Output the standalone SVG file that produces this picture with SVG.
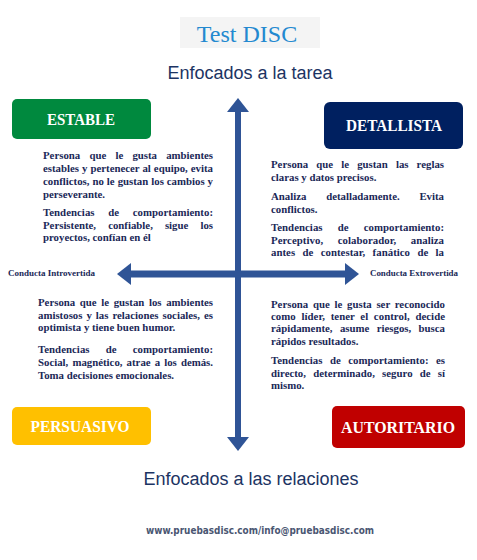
<svg xmlns="http://www.w3.org/2000/svg" width="477" height="560" viewBox="0 0 477 560">
<defs>
<style>
.body{font-family:"Liberation Serif","Times New Roman",serif;font-weight:bold;font-size:10.8px;fill:#1a2857}
.head{font-family:"Liberation Serif","Times New Roman",serif;font-weight:bold;font-size:17px;fill:#ffffff;text-anchor:middle}
.axis{font-family:"Liberation Sans",Arial,sans-serif;font-size:18px;fill:#1c3463;text-anchor:middle}
.side{font-family:"Liberation Serif","Times New Roman",serif;font-weight:bold;font-size:8px;fill:#1a2857}
.arrow{stroke:#2f5496;fill:none}
</style>
<marker id="ah" viewBox="0 0 14 22" markerUnits="userSpaceOnUse" markerWidth="14" markerHeight="22" refX="0" refY="11" orient="auto-start-reverse">
<path d="M0,0 L14,11 L0,22 z" fill="#2f5496"/>
</marker>
</defs>
<rect width="477" height="560" fill="#ffffff"/>

<g id="title">
<rect x="180" y="17" width="140" height="31" fill="#f4f4f4"/>
<text x="247" y="42" font-family="Liberation Serif, Times New Roman, serif" font-size="24" fill="#2389d0" text-anchor="middle">Test DISC</text>
</g>

<g id="axis-top"><text class="axis" x="250" y="79">Enfocados a la tarea</text></g>
<g id="axis-bottom"><text class="axis" x="251" y="485">Enfocados a las relaciones</text></g>

<g id="connectors">
<line class="arrow" x1="238" y1="112" x2="238" y2="437" stroke-width="6" marker-start="url(#ah)" marker-end="url(#ah)"/>
<line class="arrow" x1="131" y1="274" x2="345" y2="274" stroke-width="7" marker-start="url(#ah)" marker-end="url(#ah)"/>
</g>

<g id="introvertida"><text class="side" x="8" y="276" textLength="87" lengthAdjust="spacingAndGlyphs">Conducta Introvertida</text></g>
<g id="extrovertida"><text class="side" x="370" y="276" textLength="88" lengthAdjust="spacingAndGlyphs">Conducta Extrovertida</text></g>

<g id="estable">
<rect x="12" y="99" width="139" height="40" rx="5" fill="#00893e"/>
<text class="head" x="81" y="124.5" textLength="68" lengthAdjust="spacingAndGlyphs">ESTABLE</text>
<text class="body">
<tspan x="43" y="159" word-spacing="6.5" textLength="170">Persona que le gusta ambientes</tspan>
<tspan x="43" y="172" word-spacing="0.3" textLength="170">estables y pertenecer al equipo, evita</tspan>
<tspan x="43" y="185" word-spacing="0.3" textLength="170">conflictos, no le gustan los cambios y</tspan>
<tspan x="43" y="198">perseverante.</tspan>
<tspan x="43" y="216" word-spacing="10.9" textLength="170">Tendencias de comportamiento:</tspan>
<tspan x="43" y="229" word-spacing="9.4" textLength="170">Persistente, confiable, sigue los</tspan>
<tspan x="43" y="241">proyectos, confían en él</tspan>
</text>
</g>

<g id="detallista">
<rect x="324" y="102" width="139" height="47" rx="6" fill="#002060"/>
<text class="head" x="394" y="130.5" textLength="96" lengthAdjust="spacingAndGlyphs">DETALLISTA</text>
<text class="body">
<tspan x="271" y="168" word-spacing="5.4" textLength="173">Persona que le gustan las reglas</tspan>
<tspan x="271" y="181">claras y datos precisos.</tspan>
<tspan x="271" y="200" word-spacing="17" textLength="173">Analiza detalladamente. Evita</tspan>
<tspan x="271" y="213">conflictos.</tspan>
<tspan x="271" y="231" word-spacing="12.4" textLength="173">Tendencias de comportamiento:</tspan>
<tspan x="271" y="243.5" word-spacing="11.8" textLength="173">Perceptivo, colaborador, analiza</tspan>
<tspan x="271" y="256" word-spacing="4.6" textLength="173">antes de contestar, fanático de la</tspan>
</text>
</g>

<g id="persuasivo">
<rect x="12" y="407" width="139" height="38" rx="5" fill="#ffc000"/>
<text class="head" x="80" y="431.5" textLength="99" lengthAdjust="spacingAndGlyphs">PERSUASIVO</text>
<text class="body">
<tspan x="38" y="306" word-spacing="1.9" textLength="175">Persona que le gustan los ambientes</tspan>
<tspan x="38" y="318.5" word-spacing="1.3" textLength="175">amistosos y las relaciones sociales, es</tspan>
<tspan x="38" y="331">optimista y tiene buen humor.</tspan>
<tspan x="38" y="352.5" word-spacing="13.4" textLength="175">Tendencias de comportamiento:</tspan>
<tspan x="38" y="365.5" word-spacing="1.4" textLength="175">Social, magnético, atrae a los demás.</tspan>
<tspan x="38" y="378.5">Toma decisiones emocionales.</tspan>
</text>
</g>

<g id="autoritario">
<rect x="332" y="406" width="133" height="42" rx="5" fill="#c00000"/>
<text class="head" x="398" y="432.5" textLength="114" lengthAdjust="spacingAndGlyphs">AUTORITARIO</text>
<text class="body">
<tspan x="271" y="307.5" word-spacing="2" textLength="174">Persona que le gusta ser reconocido</tspan>
<tspan x="271" y="319.5" word-spacing="2.9" textLength="174">como líder, tener el control, decide</tspan>
<tspan x="271" y="332" word-spacing="4.7" textLength="174">rápidamente, asume riesgos, busca</tspan>
<tspan x="271" y="344.5">rápidos resultados.</tspan>
<tspan x="271" y="363.5" word-spacing="4.7" textLength="174">Tendencias de comportamiento: es</tspan>
<tspan x="271" y="376.5" word-spacing="4.5" textLength="174">directo, determinado, seguro de sí</tspan>
<tspan x="271" y="389">mismo.</tspan>
</text>
</g>

<g id="footer">
<text x="260" y="534" font-family="Liberation Sans Narrow, DejaVu Sans Condensed, Liberation Sans, sans-serif" font-weight="bold" font-size="11" fill="#4a5672" text-anchor="middle" textLength="228" lengthAdjust="spacingAndGlyphs">www.pruebasdisc.com/info@pruebasdisc.com</text>
</g>
</svg>
